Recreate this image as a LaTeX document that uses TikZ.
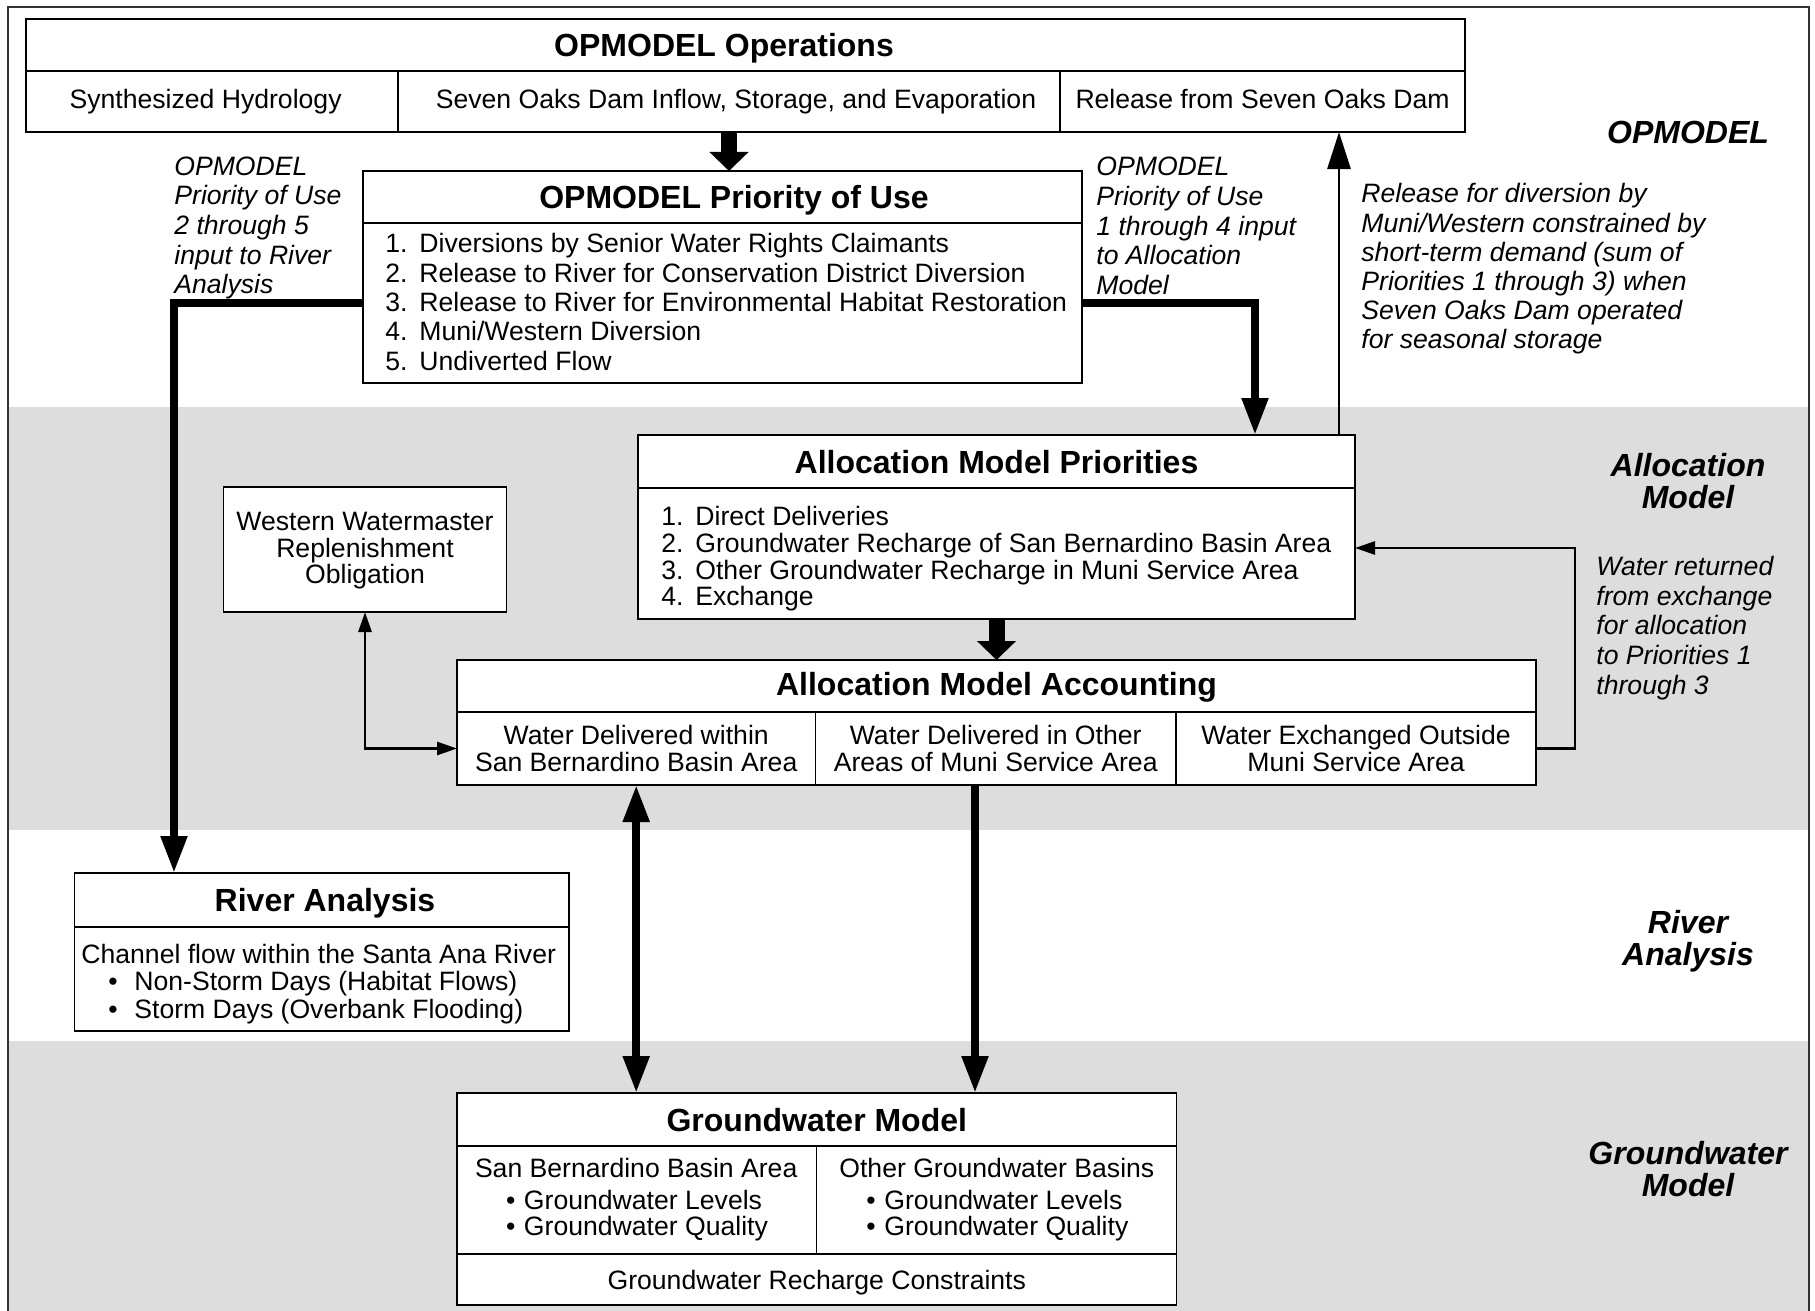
\documentclass[tikz,border=0pt]{standalone}
\usepackage{fontspec}
\setmainfont{Liberation Sans}
\usetikzlibrary{arrows.meta,calc}
\definecolor{bandgray}{RGB}{221,221,221}
\definecolor{framegray}{RGB}{50,50,50}
\newcommand{\fnorm}{\fontsize{13.3pt}{13.3pt}\selectfont}
\newcommand{\fprio}{\fontsize{13.3pt}{14.7pt}\selectfont}
\newcommand{\fnote}{\fontsize{13.3pt}{14.8pt}\selectfont\itshape}
\newcommand{\friv}{\fontsize{13.3pt}{13.9pt}\selectfont}
\newcommand{\ftitle}{\fontsize{16pt}{16pt}\selectfont\bfseries}
\newcommand{\fside}{\fontsize{16pt}{15.8pt}\selectfont\bfseries\itshape}
\newcommand{\lnum}[1]{\makebox[17pt][l]{#1}}
\newcommand{\bul}{\makebox[13pt][l]{•}}
\newcommand{\gbul}{\makebox[9pt][l]{•}}
\tikzset{
 cell/.style={draw, line width=0.8pt, fill=white, inner sep=0pt, outer sep=0pt, align=center, anchor=north west, font=\fnorm},
 one/.style={text height=9.6pt, text depth=0pt},
 oneup/.style={text height=9.6pt, text depth=2.2pt},
 ttl/.style={font=\ftitle, text height=11.5pt, text depth=0pt},
 lst/.style={anchor=west, align=left, inner sep=0pt},
 note/.style={anchor=west, align=left, inner sep=0pt},
 side/.style={align=center, inner sep=0pt, font=\fside},
 blockarrow/.style={line width=8pt, -{Triangle[length=9.5pt,width=19pt]}},
 thickarrow/.style={line width=4pt, -{Triangle[length=18.5pt,width=12.5pt]}},
 thickboth/.style={line width=4pt, {Triangle[length=18.5pt,width=12.5pt]}-{Triangle[length=18.5pt,width=12.5pt]}},
 thinarrow/.style={line width=1.4pt, -{Triangle[length=18.5pt,width=11.5pt]}},
 smallarrow/.style={line width=1.4pt, -{Triangle[length=10pt,width=6.5pt]}},
 smallboth/.style={line width=1.4pt, {Triangle[length=10pt,width=6.5pt]}-{Triangle[length=10pt,width=6.5pt]}},
}
\begin{document}
\begin{tikzpicture}[x=0.5pt, y=-0.5pt]
\useasboundingbox (0,0) rectangle (1815,1311);
\clip (0,0) rectangle (1815,1311);
\fill[white] (0,0) rectangle (1815,1311);
\fill[bandgray] (8,407) rectangle (1809,830);
\fill[bandgray] (8,1041) rectangle (1809,1330);
\draw[framegray, line width=0.8pt] (8,7) rectangle (1809,1340);

% OPMODEL Operations
\node[cell, minimum width=719.5pt, minimum height=26pt] (opsT) at (26,19) {};
\node[ttl, inner sep=0pt] (opsTitle) at (724,45) {OPMODEL Operations};
\node[cell, oneup, minimum width=186pt, minimum height=30.5pt] (ops1) at (26,71) {\hspace*{-6.4pt}Synthesized Hydrology};
\node[cell, oneup, minimum width=331pt, minimum height=30.5pt] (ops2) at (398,71) {\hspace*{7pt}Seven Oaks Dam Inflow, Storage, and Evaporation};
\node[cell, oneup, minimum width=202.5pt, minimum height=30.5pt] (ops3) at (1060,71) {Release from Seven Oaks Dam};

% OPMODEL Priority of Use
\node[cell, minimum width=359.5pt, minimum height=26pt] (prT) at (363,171) {};
\node[ttl, inner sep=0pt] (prTitle) at (734,197) {OPMODEL Priority of Use};
\node[cell, minimum width=359.5pt, minimum height=80pt] (prB) at (363,223) {};
\node[lst, font=\fprio] (prL) at (385,302) {\lnum{1.}Diversions by Senior Water Rights Claimants\\
\lnum{2.}Release to River for Conservation District Diversion\\
\lnum{3.}Release to River for Environmental Habitat Restoration\\
\lnum{4.}Muni/Western Diversion\\
\lnum{5.}Undiverted Flow};

% notes
\node[note, font=\fnote] (noteL) at (174,228) {OPMODEL\\Priority of Use\\2 through 5\\input to River\\Analysis};
\node[note, font=\fnote] (noteR) at (1096,226) {OPMODEL\\Priority of Use\\1 through 4 input\\to Allocation\\Model};
\node[note, font=\fontsize{13.3pt}{14.6pt}\selectfont\itshape] (noteRel) at (1361,269) {Release for diversion by\\Muni/Western constrained by\\short-term demand (sum of\\Priorities 1 through 3) when\\Seven Oaks Dam operated\\for seasonal storage};
\node[note, font=\fontsize{13.3pt}{14.8pt}\selectfont\itshape] (noteRet) at (1596,628) {Water returned\\from exchange\\for allocation\\to Priorities 1\\through 3};

% Allocation Model Priorities
\node[cell, ttl, minimum width=358.5pt, minimum height=26.5pt] (apT) at (638,435) {Allocation Model Priorities};
\node[cell, minimum width=358.5pt, minimum height=65.5pt] (apB) at (638,488) {};
\node[lst, font=\fnorm] (apL) at (661,559) {\lnum{1.}Direct Deliveries\\
\lnum{2.}Groundwater Recharge of San Bernardino Basin Area\\
\lnum{3.}Other Groundwater Recharge in Muni Service Area\\
\lnum{4.}Exchange};

% Western Watermaster
\node[cell, minimum width=141.5pt, minimum height=62.5pt] (wwm) at (223.5,487) {};
\node[align=center, inner sep=0pt, font=\fnorm] (wwmT) at (365,551) {Western Watermaster\\Replenishment\\Obligation};

% Allocation Model Accounting
\node[cell, ttl, text depth=2.3pt, minimum width=539.5pt, minimum height=26pt] (acT) at (457,660) {Allocation Model Accounting};
\node[cell, minimum width=179.2pt, minimum height=36.5pt] (ac1) at (457,712) {Water Delivered within\\San Bernardino Basin Area};
\node[cell, minimum width=180.3pt, minimum height=36.5pt] (ac2) at (815.4,712) {Water Delivered in Other\\Areas of Muni Service Area};
\node[cell, minimum width=180pt, minimum height=36.5pt] (ac3) at (1176,712) {Water Exchanged Outside\\Muni Service Area};

% River Analysis
\node[cell, minimum width=247.25pt, minimum height=27pt] (rvT) at (74.3,873) {};
\node[ttl, inner sep=0pt] (rvTitle) at (325,900) {River Analysis};
\node[cell, minimum width=247.25pt, minimum height=52pt] (rvB) at (74.3,927) {};
\node[lst, font=\friv] (rvL) at (81,984) {Channel flow within the Santa Ana River\\
\hspace*{13.5pt}\bul Non-Storm Days (Habitat Flows)\\
\hspace*{13.5pt}\bul Storm Days (Overbank Flooding)};

% Groundwater Model
\node[cell, ttl, minimum width=359.8pt, minimum height=26.5pt] (gwT) at (457,1093) {Groundwater Model};
\node[cell, minimum width=179.8pt, minimum height=54pt] (gw1) at (457,1146) {};
\node[cell, minimum width=180pt, minimum height=54pt] (gw2) at (816.6,1146) {};
\node[cell, one, minimum width=359.8pt, minimum height=25.5pt] (gw3) at (457,1254) {Groundwater Recharge Constraints};
\node[lst, font=\fnorm] (gw1L) at (474.6,1200) {San Bernardino Basin Area\\[2.5pt]
\hspace*{15.5pt}\gbul Groundwater Levels\\
\hspace*{15.5pt}\gbul Groundwater Quality};
\node[lst, font=\fnorm] (gw2L) at (839,1200) {Other Groundwater Basins\\[2.5pt]
\hspace*{13.5pt}\gbul Groundwater Levels\\
\hspace*{13.5pt}\gbul Groundwater Quality};

% side labels
\node[side] (sOP) at (1688,132) {OPMODEL};
\node[side] (sAM) at (1688,481) {Allocation\\Model};
\node[side] (sRA) at (1688,941) {River\\Analysis};
\node[side] (sGM) at (1688,1169) {Groundwater\\Model};

% connectors
\draw[blockarrow] (ops2.south) -- (ops2.south |- prT.north);
\draw[thickarrow] (prB.west) -| ([xshift=49.85pt]rvT.north west);
\draw[thickarrow] (prB.east) -| ([xshift=308.5pt]apT.north west);
\coordinate (apUp) at ([xshift=350.5pt]apT.north west);
\draw[thinarrow] (apUp) -- (apUp |- ops3.south);
\draw[blockarrow] (apB.south) -- (apB.south |- acT.north);
\draw[smallboth] (wwm.south) |- (ac1.west);
\coordinate (apIn) at ([yshift=2.75pt]apB.east);
\draw[smallarrow] (ac3.east) -- ++(39,0) |- (apIn);
\draw[thickboth] (ac1.south) -- (ac1.south |- gwT.north);
\coordinate (acOut) at ([xshift=79.8pt]ac2.south west);
\draw[thickarrow] (acOut) -- (acOut |- gwT.north);
\end{tikzpicture}
\end{document}
